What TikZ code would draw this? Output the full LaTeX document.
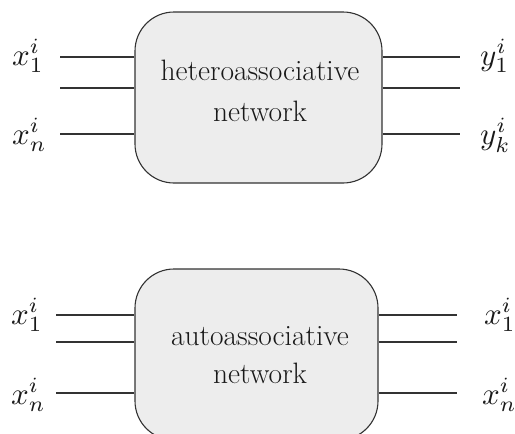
\documentclass[tikz,border=0pt]{standalone}
\usepackage{graphicx}
\newcommand{\biglab}[1]{\scalebox{3.1}{$#1$}}
\begin{document}
\begin{tikzpicture}[x=1pt,y=-1pt,
  netbox/.style={draw=black!80,line width=1.1pt,fill=black!7,rounded corners=39pt,inner sep=0pt},
  boxtext/.style={anchor=base,inner sep=0pt,font=\fontsize{29.5}{29.5}\selectfont,text=black!90},
  wire/.style={draw=black!80,line width=1.1pt},
  lab/.style={anchor=base west,inner sep=0pt,text=black!90}]
\useasboundingbox (0,0) rectangle (515,434);
\clip (0,0) rectangle (515,434);
% top network
\node[netbox,minimum width=247pt,minimum height=171pt] (H) at (258.5,97.5) {};
\node[boxtext] (H1) at (260,80) {heteroassociative};
\node[boxtext] (H2) at (260,121) {network};
\coordinate (ha) at (60,57);  \coordinate (hb) at (60,88);  \coordinate (hc) at (60,134);
\coordinate (hd) at (460,57); \coordinate (he) at (460,88); \coordinate (hf) at (460,134);
\draw[wire] (ha) -- (H.west |- ha);
\draw[wire] (hb) -- (H.west |- hb);
\draw[wire] (hc) -- (H.west |- hc);
\draw[wire] (H.east |- hd) -- (hd);
\draw[wire] (H.east |- he) -- (he);
\draw[wire] (H.east |- hf) -- (hf);
\node[lab] (hx1) at (12,65) {\biglab{x_1^i}};
\node[lab] (hxn) at (12,144) {\biglab{x_n^i}};
\node[lab] (hy1) at (480,65) {\biglab{y_1^i}};
\node[lab] (hyk) at (480,144) {\biglab{y_k^i}};
% bottom network
\node[netbox,minimum width=243pt,minimum height=171pt] (A) at (256.5,354.5) {};
\node[boxtext] (A1) at (260,345) {autoassociative};
\node[boxtext] (A2) at (260,383) {network};
\coordinate (aa) at (56,315);  \coordinate (ab) at (56,342);  \coordinate (ac) at (56,393);
\coordinate (ad) at (457,315); \coordinate (ae) at (457,342); \coordinate (af) at (457,393);
\draw[wire] (aa) -- (A.west |- aa);
\draw[wire] (ab) -- (A.west |- ab);
\draw[wire] (ac) -- (A.west |- ac);
\draw[wire] (A.east |- ad) -- (ad);
\draw[wire] (A.east |- ae) -- (ae);
\draw[wire] (A.east |- af) -- (af);
\node[lab] (ax1) at (11,324) {\biglab{x_1^i}};
\node[lab] (axn) at (11,404) {\biglab{x_n^i}};
\node[lab] (bx1) at (484,324) {\biglab{x_1^i}};
\node[lab] (bxn) at (482,404) {\biglab{x_n^i}};
\end{tikzpicture}
\end{document}
